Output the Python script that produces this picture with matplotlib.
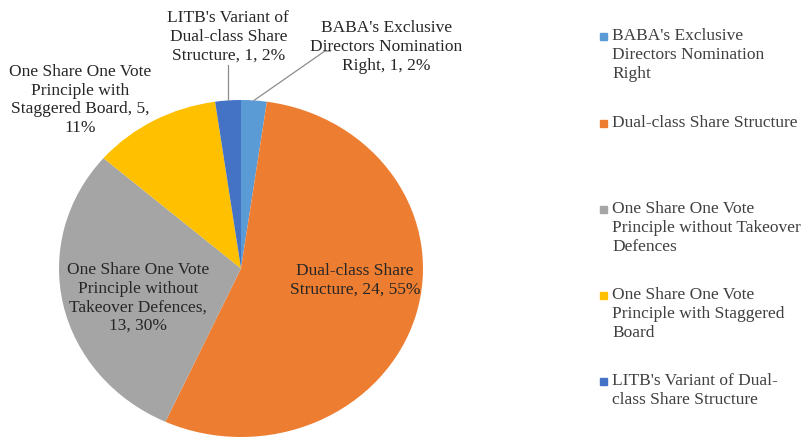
import numpy as np
import matplotlib.pyplot as plt
from matplotlib.patches import Rectangle

plt.rcParams["font.family"] = ["Liberation Serif", "DejaVu Serif"]

categories = [
    "BABA's Exclusive\nDirectors Nomination\nRight",
    "Dual-class Share Structure",
    "One Share One Vote\nPrinciple without Takeover\nDefences",
    "One Share One Vote\nPrinciple with Staggered\nBoard",
    "LITB's Variant of Dual-\nclass Share Structure",
]
values = [1, 24, 13, 5, 1]
colors = ["#5B9BD5", "#ED7D31", "#A5A5A5", "#FFC000", "#4472C4"]
label_fmt = [
    "BABA's Exclusive\nDirectors Nomination\nRight, {v}, {p}%",
    "Dual-class Share\nStructure, {v}, {p}%",
    "One Share One Vote\nPrinciple without\nTakeover Defences,\n{v}, {p}%",
    "One Share One Vote\nPrinciple with\nStaggered Board, {v},\n{p}%",
    "LITB's Variant of\nDual-class Share\nStructure, {v}, {p}%",
]

# label centres (axes data units, pie radius = 1)
label_pos = [(0.80, 1.315), (0.626, -0.068), (-0.566, -0.175), (-0.885, 1.0), (-0.07, 1.374)]
leader = [True, False, False, False, True]

W, H = 810, 438
fig = plt.figure(figsize=(W / 100, H / 100), dpi=100)
# pie box in pixels: x 59..423, y 100..437 (reference is slightly stretched)
ax = fig.add_axes([59 / W, 1 / H, 364 / W, 337 / H])

wedges, _ = ax.pie(values, colors=colors, startangle=90, counterclock=False,
                   radius=1, wedgeprops=dict(linewidth=0))
ax.set_aspect("auto")
ax.set_xlim(-1, 1)
ax.set_ylim(-1, 1)
ax.axis("off")

total = sum(values)
text_color = "#262626"
fs = 12.5
ls = 1.23
for w, v, fmt, (lx, ly), has_line in zip(wedges, values, label_fmt, label_pos, leader):
    pct = round(100 * v / total)
    ax.text(lx, ly, fmt.format(v=v, p=pct), ha="center", va="center",
            fontsize=fs, color=text_color, linespacing=ls, clip_on=False)
    if has_line:
        mid = np.deg2rad((w.theta1 + w.theta2) / 2)
        px, py = np.cos(mid), np.sin(mid)
        if px > 0:
            xs = [px, 0.46, 0.49]
            ys = [py, 1.29, 1.29]
        else:
            xs = [px, px]
            ys = [py, 1.21]
        ax.plot(xs, ys, color="#8c8c8c", lw=0.9, clip_on=False)

# legend, one entry per category, first lines evenly spaced
legend_y = [36.5, 123, 209, 295, 381]
for cat, col, y in zip(categories, colors, legend_y):
    fig.patches.append(Rectangle((600 / W, 1 - (y + 3.5) / H), 7 / W, 7 / H,
                                 transform=fig.transFigure, color=col))
    fig.text(612 / W, 1 - (y - 8) / H, cat, ha="left", va="top",
             fontsize=fs, color="#404040", linespacing=ls)

fig.savefig("out.png", dpi=100)
